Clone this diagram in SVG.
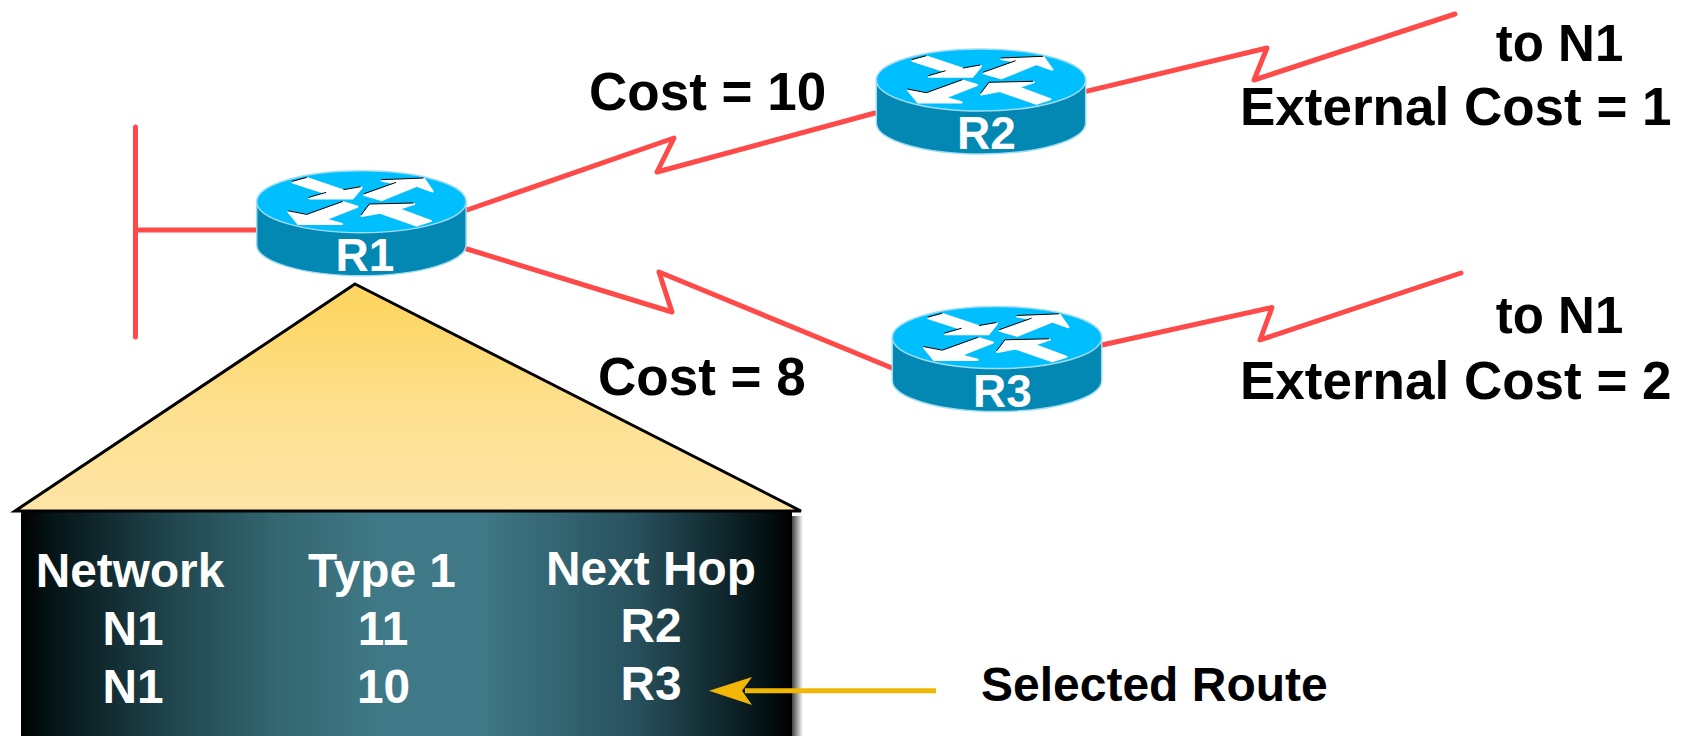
<svg xmlns="http://www.w3.org/2000/svg" xmlns:xlink="http://www.w3.org/1999/xlink" width="1686" height="736" viewBox="0 0 1686 736">
<style>
text{font-family:"Liberation Sans",Arial,sans-serif;font-weight:bold}
.k{font-size:53px;fill:#000}
.t{font-size:51px}
.w{font-size:47.800px;fill:#fff;text-anchor:middle}
.r{font-size:46px}
.m{text-anchor:middle}
.link{fill:none;stroke:#ff4a4a;stroke-width:5;stroke-linejoin:round;stroke-linecap:round}
.body{fill:#0387b3;stroke:#9fdcf2;stroke-width:1.5}
.top{fill:#00bfff;stroke:#9fdcf2;stroke-width:1.5}
.ar{fill:#fff;stroke:#fff;stroke-width:2.200;stroke-linejoin:round}
.ed{fill:none;stroke:#000;stroke-width:1}
</style>
<defs>
<linearGradient id="tri" x1="0" y1="0" x2="0" y2="1"><stop offset="0.1" stop-color="#fdd663"/><stop offset="0.55" stop-color="#fde08f"/><stop offset="1" stop-color="#fee5a6"/></linearGradient>
<linearGradient id="tab" x1="0" y1="0" x2="1" y2="0"><stop offset="0" stop-color="#000"/><stop offset="0.04" stop-color="#051417"/><stop offset="0.2" stop-color="#21474f"/><stop offset="0.33" stop-color="#33666f"/><stop offset="0.46" stop-color="#3f7886"/><stop offset="0.6" stop-color="#3f7886"/><stop offset="0.8" stop-color="#27505c"/><stop offset="0.96" stop-color="#051417"/><stop offset="1" stop-color="#000"/></linearGradient>
<linearGradient id="sh" x1="0" y1="0" x2="1" y2="0"><stop offset="0" stop-color="#444"/><stop offset="1" stop-color="#fff"/></linearGradient>
<g id="router">
<path class="body" d="M-104.700 0V43A104.700 31 0 0 0 104.700 43V0Z"/>
<ellipse class="top" cx="0" cy="0" rx="104.700" ry="31"/>
<path class="ar" d="M-68.700 -19.300L-54 -23.300L-17.300 -11L0 -14L-8.700 -3.300L-52 -3.300L-34.700 -8.300Z"/>
<path class="ar" d="M2.700 -6.700L35.300 -18.300L20.300 -21L62.700 -22.700L71.300 -10.300L55.300 -16L20.300 -1.700Z"/>
<path class="ar" d="M-4 5L-18 0.700L-54 13.700L-73 10L-63 22.300L-19.300 22.300L-36.300 17.700Z"/>
<path class="ar" d="M0.300 14.300L8.700 3.300L52.700 2.300L37 7.300L69.300 19.300L55.300 23.700L18.700 11Z"/>
<g transform="translate(-0.700 -1)">
<path class="ed" d="M-68.700 -19.300L-54 -23.300M-17.300 -11L0 -14M-52 -3.300L-34.700 -8.300"/>
<path class="ed" d="M2.700 -6.700L35.300 -18.300M20.300 -21L62.700 -22.700"/>
<path class="ed" d="M-18 0.700L-54 13.700L-73 10"/>
<path class="ed" d="M0.300 14.300L8.700 3.300L52.700 2.300"/>
</g>
</g>
</defs>
<g id="table">
<rect x="792" y="516" width="11" height="220" fill="url(#sh)"/>
<rect x="21" y="512" width="771" height="224" fill="url(#tab)"/>
<path fill="url(#tri)" stroke="#000" stroke-width="3" stroke-linejoin="miter" d="M355 284L801 511H15Z"/>
<text class="w" x="130" y="587">Network</text>
<text class="w" x="382" y="587">Type 1</text>
<text class="w" x="651" y="585">Next Hop</text>
<text class="w" x="133" y="645">N1</text>
<text class="w" x="383" y="645">11</text>
<text class="w" x="651" y="642">R2</text>
<text class="w" x="133" y="703">N1</text>
<text class="w" x="383.500" y="703">10</text>
<text class="w" x="651" y="700">R3</text>
</g>
<g id="connectors">
<path class="link" d="M135.500 127V337M135.500 230H256"/>
<path class="link" d="M467 210L674 138L657 172L875 113"/>
<path class="link" d="M467 249L672 312L659 272L892 368"/>
<path class="link" d="M1086 91.400L1267 48L1254 80L1455 14"/>
<path class="link" d="M1102 345L1272 307.500L1260 340L1461 273"/>
<path fill="none" stroke="#f2b705" stroke-width="5" d="M745 690.700H936"/>
<path fill="#f2b705" d="M709 690.700L752 677L742 690.700L752 705Z"/>
</g>
<g id="R1"><use xlink:href="#router" href="#router" transform="translate(361.400 201.700)"/><text class="w r" x="365" y="270.500">R1</text></g>
<g id="R2"><use xlink:href="#router" href="#router" transform="translate(981 80)"/><text class="w r" x="986.500" y="149">R2</text></g>
<g id="R3"><use xlink:href="#router" href="#router" transform="translate(997 337.500)"/><text class="w r" x="1002.500" y="407">R3</text></g>
<g id="labels">
<text class="k" x="589" y="110">Cost = 10</text>
<text class="k" x="598" y="395">Cost = 8</text>
<text class="k m t" x="1559.500" y="60.500">to N1</text>
<text class="k" x="1240" y="125">External Cost = 1</text>
<text class="k m t" x="1559.500" y="333">to N1</text>
<text class="k" x="1240" y="399">External Cost = 2</text>
<text x="981" y="701" font-size="48">Selected Route</text>
</g>
</svg>
